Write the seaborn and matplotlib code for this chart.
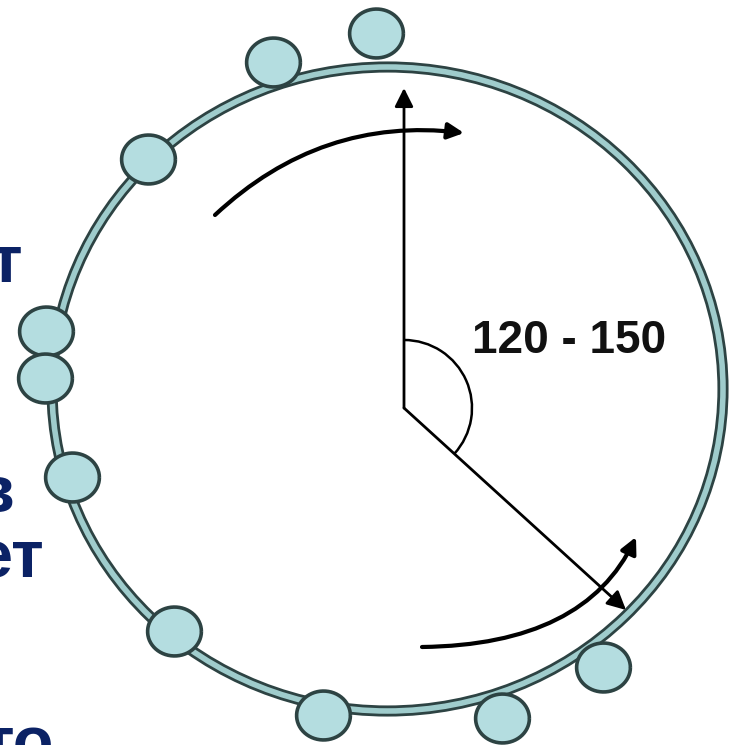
import numpy as np
import matplotlib
matplotlib.use("Agg")
import matplotlib.pyplot as plt
from matplotlib.patches import Ellipse, Arc, FancyArrowPatch
from matplotlib.path import Path
import seaborn as sns

# ---------------- data ----------------
# beads sitting on the ring (pixel coordinates of the picture)
bead_x = [376, 273, 148, 46, 45, 72, 174, 323, 502, 603]
bead_y = [33, 62, 159, 331, 378, 477, 631, 715, 718, 667]

# ring (ellipse) centre and size
ring_center = (387.5, 389)
ring_size = (671, 644)

# angle between the two radii
vertex = (404, 408)
radius_up_tip = (404, 88)
radius_diag_tip = (626, 610)
angle_label = "120 - 150"

# curved arrows: start, control, end (quadratic bezier)
top_curve = [(215, 215), (321, 116), (464, 133)]
bottom_curve = [(422, 647), (585, 645), (636, 537)]

# cut-off slide text on the left edge
side_words = ["т", "в", "ет", "то"]
side_right = [22, 14, 44, 54]
side_base = [282, 512, 577, 763]

# ---------------- style ----------------
sns.set_theme(style="white")
plt.rcParams['font.family'] = ['Liberation Sans', 'DejaVu Sans']

ring_dark = '#2d4343'
ring_light = '#9fcccc'
bead_fill = '#b4dde0'
navy = '#0b2265'

fig = plt.figure(figsize=(7.37, 7.45), dpi=100)
ax = fig.add_axes([0, 0, 1, 1])

# ring: dark band with a light core
ax.add_patch(Ellipse(ring_center, ring_size[0], ring_size[1], fill=False,
                     edgecolor=ring_dark, linewidth=8.0, zorder=2))
ax.add_patch(Ellipse(ring_center, ring_size[0], ring_size[1], fill=False,
                     edgecolor=ring_light, linewidth=4.0, zorder=3))

# beads, slightly wider than tall
t = np.linspace(0, 2 * np.pi, 60)
bead_marker = Path(np.column_stack([1.1 * np.cos(t), np.sin(t)]))
sns.scatterplot(x=bead_x, y=bead_y, ax=ax, marker=bead_marker, s=1500,
                color=bead_fill, edgecolor=ring_dark, linewidth=2.6, zorder=4)

# radii with arrow heads
ax.annotate('', xy=radius_up_tip, xytext=vertex,
            arrowprops=dict(arrowstyle='-|>', color='black', lw=2.0,
                            mutation_scale=28, shrinkA=0, shrinkB=0), zorder=5)
ax.annotate('', xy=radius_diag_tip, xytext=vertex,
            arrowprops=dict(arrowstyle='-|>', color='black', lw=2.0,
                            mutation_scale=28, shrinkA=0, shrinkB=0), zorder=5)

# angle mark
diag_deg = np.degrees(np.arctan2(radius_diag_tip[1] - vertex[1],
                                 radius_diag_tip[0] - vertex[0]))
ax.add_patch(Arc(vertex, 136, 136, theta1=-90, theta2=diag_deg,
                 color='black', lw=1.8, zorder=5))

# curved motion arrows
for pts in (top_curve, bottom_curve):
    p = Path(pts, [Path.MOVETO, Path.CURVE3, Path.CURVE3])
    ax.add_patch(FancyArrowPatch(path=p, arrowstyle='-|>', mutation_scale=24,
                                 color='black', lw=3.0, zorder=6))

ax.text(472, 353, angle_label, fontsize=33, fontweight='bold',
        color='#111111', ha='left', va='baseline', zorder=7)

for w, xr, yb in zip(side_words, side_right, side_base):
    ax.text(xr, yb, w, fontsize=48, fontweight='bold', color=navy,
            ha='right', va='baseline', clip_on=True)

ax.set_xlim(0, 737)
ax.set_ylim(745, 0)
ax.set_axis_off()

plt.savefig('out.png', dpi=100)
